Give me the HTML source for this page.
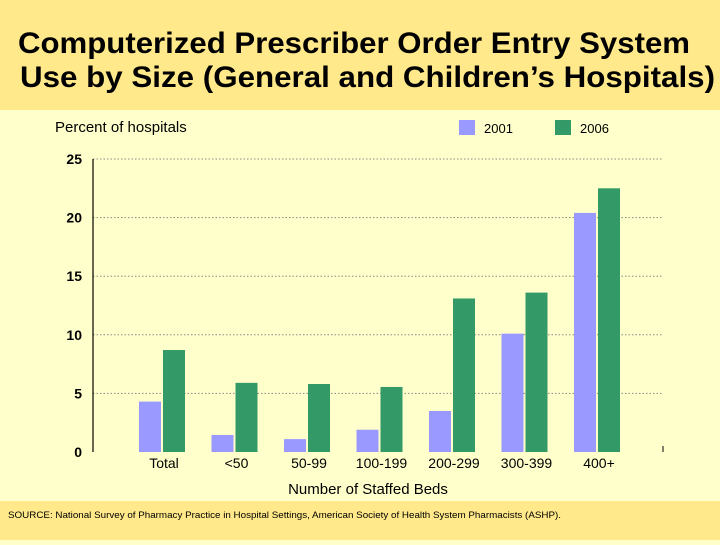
<!DOCTYPE html>
<html><head><meta charset="utf-8"><style>
body{margin:0;width:720px;height:540px;overflow:hidden;background:#FFFFCC;font-family:"Liberation Sans","DejaVu Sans",sans-serif}
</style></head><body>
<svg id="c" width="720" height="540" xmlns="http://www.w3.org/2000/svg">
<rect x="0" y="0" width="720" height="110" fill="#FFE98A"/>
<rect x="0" y="501" width="720" height="39" fill="#FFE98A"/>
<text x="18" y="53" font-size="30" font-weight="bold" textLength="672" lengthAdjust="spacingAndGlyphs">Computerized Prescriber Order Entry System</text>
<text x="20" y="87" font-size="30" font-weight="bold" textLength="695" lengthAdjust="spacingAndGlyphs">Use by Size (General and Children’s Hospitals)</text>
<text x="55" y="132" font-size="15">Percent of hospitals</text>
<rect x="459" y="120" width="16" height="15" fill="#9999FF"/>
<text x="484" y="133" font-size="13">2001</text>
<rect x="555" y="120" width="16" height="15" fill="#339966"/>
<text x="580" y="133" font-size="13">2006</text>
<g id="grid"></g><g id="bars"></g><g id="labels"></g>
<line x1="93" y1="159" x2="93" y2="452" stroke="#000" stroke-width="1.2"/>
<line x1="663" y1="446" x2="663" y2="452" stroke="#000"/>
<text x="368" y="494" font-size="15" text-anchor="middle">Number of Staffed Beds</text>
<text x="8" y="518" font-size="9" textLength="553" lengthAdjust="spacingAndGlyphs">SOURCE:  National Survey of Pharmacy Practice in Hospital Settings, American Society of Health System Pharmacists (ASHP).</text>
</svg>
<script>
const categories=["Total","<50","50-99","100-199","200-299","300-399","400+"];
const values2001=[4.3,1.45,1.1,1.9,3.5,10.1,20.4];
const values2006=[8.7,5.9,5.8,5.55,13.1,13.6,22.5];
const yTicks=[0,5,10,15,20,25];
const NS="http://www.w3.org/2000/svg";
const y=v=>452-v*(293/25);
const xc=i=>162+i*72.5;
function mk(t,a){const e=document.createElementNS(NS,t);for(const k in a)e.setAttribute(k,a[k]);return e;}
const grid=document.getElementById('grid'),bars=document.getElementById('bars'),labels=document.getElementById('labels');
yTicks.forEach(t=>{
  if(t>0){const l=mk('line',{x1:93,x2:663,y1:y(t),y2:y(t),stroke:'#888','stroke-dasharray':'1.5 2'});
  
  
  grid.appendChild(l);}
  const tx=mk('text',{x:82,y:y(t)+5,'font-size':14,'font-weight':'bold','text-anchor':'end'});
  tx.textContent=t;
  
  
  labels.appendChild(tx);
});
categories.forEach((c,i)=>{
  const b1=mk('rect',{x:xc(i)-23,y:y(values2001[i]),width:22,height:y(0)-y(values2001[i]),fill:'#9999FF'});
  
  
  bars.appendChild(b1);
  const b2=mk('rect',{x:xc(i)+1,y:y(values2006[i]),width:22,height:y(0)-y(values2006[i]),fill:'#339966'});
  
  
  bars.appendChild(b2);
  const tx=mk('text',{x:xc(i)+2,y:468,'font-size':14,'text-anchor':'middle'});
  tx.textContent=c;
  
  
  labels.appendChild(tx);
});
</script>
</body></html>
